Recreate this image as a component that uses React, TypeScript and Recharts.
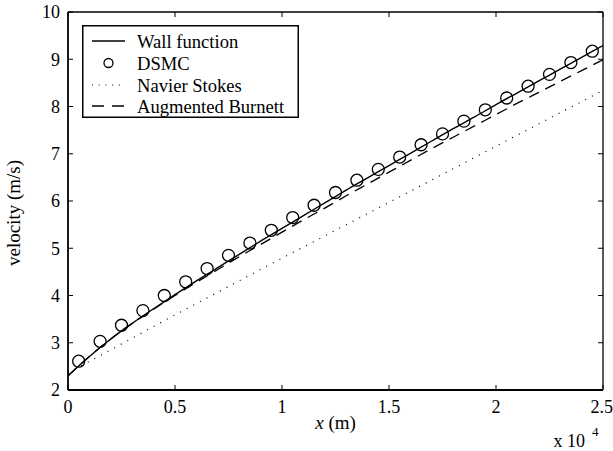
import React from 'react';
import { ComposedChart, Line, Scatter, XAxis, YAxis, Legend } from 'recharts';

const xTicks = [0, 0.5, 1, 1.5, 2, 2.5];
const yTicks = [2, 3, 4, 5, 6, 7, 8, 9, 10];

const seriesNames = ['Wall function', 'DSMC', 'Navier Stokes', 'Augmented Burnett'];

const wallX = [0, 0.05, 0.1, 0.2, 0.3, 0.4, 0.5, 0.6, 0.7, 0.8, 0.9, 1.0, 1.1, 1.2, 1.3, 1.4, 1.5, 1.6, 1.7, 1.8, 1.9, 2.0, 2.1, 2.2, 2.3, 2.4, 2.5];
const wallV = [2.30, 2.51, 2.71, 3.08, 3.41, 3.72, 4.02, 4.31, 4.59, 4.87, 5.15, 5.42, 5.69, 5.96, 6.23, 6.49, 6.75, 7.01, 7.27, 7.53, 7.78, 8.04, 8.29, 8.54, 8.79, 9.04, 9.29];

const dsmcX = [0.05, 0.15, 0.25, 0.35, 0.45, 0.55, 0.65, 0.75, 0.85, 0.95, 1.05, 1.15, 1.25, 1.35, 1.45, 1.55, 1.65, 1.75, 1.85, 1.95, 2.05, 2.15, 2.25, 2.35, 2.45];
const dsmcV = [2.61, 3.03, 3.37, 3.68, 4.0, 4.29, 4.57, 4.85, 5.11, 5.38, 5.65, 5.91, 6.18, 6.44, 6.67, 6.93, 7.19, 7.42, 7.69, 7.93, 8.18, 8.43, 8.68, 8.93, 9.17];

const nsX = [0, 0.5, 1.0, 1.5, 2.0, 2.5];
const nsV = [2.36, 3.59, 4.79, 5.97, 7.16, 8.34];

const abX = [0, 0.05, 0.1, 0.2, 0.3, 0.4, 0.5, 0.6, 0.7, 0.8, 0.9, 1.0, 1.1, 1.2, 1.3, 1.4, 1.5, 1.6, 1.7, 1.8, 1.9, 2.0, 2.1, 2.2, 2.3, 2.4, 2.5];
const abV = [2.30, 2.51, 2.71, 3.08, 3.41, 3.71, 4.00, 4.28, 4.55, 4.82, 5.08, 5.34, 5.60, 5.85, 6.11, 6.36, 6.61, 6.86, 7.11, 7.35, 7.59, 7.83, 8.07, 8.30, 8.53, 8.76, 8.99];

const toRows = (xs: number[], vs: number[]) => xs.map((x, i) => ({ x, v: vs[i] }));
const wallData = toRows(wallX, wallV);
const dsmcData = toRows(dsmcX, dsmcV);
const nsData = toRows(nsX, nsV);
const abData = toRows(abX, abV);

const FONT = 'Liberation Serif';
const tickStyle = { fontSize: 18, fill: '#000', fontFamily: FONT };
const EmptyTick = () => <g />;

const DSMCShape = (props: any) => (
  <circle cx={props.cx} cy={props.cy} r={6} fill="none" stroke="#000" strokeWidth={1.3} />
);

const LegendBox = () => {
  const rows = [41, 63, 85, 106].map((y) => y - 25);
  return (
    <svg width={217} height={93} style={{ display: 'block' }}>
      <rect x={0.75} y={0.75} width={215.5} height={91.5} fill="#fff" stroke="#000" strokeWidth={1.5} />
      <line x1={10} x2={43} y1={rows[0]} y2={rows[0]} stroke="#000" strokeWidth={1.3} />
      <circle cx={26.5} cy={rows[1]} r={4.5} fill="none" stroke="#000" strokeWidth={1.3} />
      <line x1={10} x2={43} y1={rows[2]} y2={rows[2]} stroke="#000" strokeWidth={1.2} strokeDasharray="1 5.7" />
      <line x1={10} x2={43} y1={rows[3]} y2={rows[3]} stroke="#000" strokeWidth={1.3} strokeDasharray="12 8" />
      {seriesNames.map((n, i) => (
        <text key={n} x={55} y={rows[i] + 6.5} fontSize={18.6} fontFamily={FONT} fill="#000">{n}</text>
      ))}
    </svg>
  );
};

const XLabel = (props: any) => {
  const vb = props.viewBox;
  return (
    <g fontFamily={FONT} fill="#000">
      <text x={vb.x + vb.width / 2} y={vb.y + 39} textAnchor="middle" fontSize={19}>
        <tspan fontStyle="italic">x</tspan> (m)
      </text>
      <text x={vb.x + vb.width - 18} y={vb.y + 57} textAnchor="end" fontSize={18}>x 10</text>
      <text x={vb.x + vb.width - 11} y={vb.y + 46} fontSize={13}>4</text>
    </g>
  );
};

const YLabel = (props: any) => {
  const vb = props.viewBox;
  const cx = 20;
  const cy = vb.y + vb.height / 2 + 12;
  return (
    <text transform={`translate(${cx},${cy}) rotate(-90)`} textAnchor="middle" fontSize={19} fontFamily={FONT} fill="#000">
      velocity (m/s)
    </text>
  );
};

export default function App() {
  return (
    <div style={{ position: 'absolute', left: 0, top: 0, width: 613, height: 451, background: '#fff' }}>
      <ComposedChart width={613} height={451} margin={{ top: 12, right: 10, left: 0, bottom: 0 }} style={{ fontFamily: FONT }}>
        <XAxis xAxisId="main" dataKey="x" type="number" domain={[0, 2.5]} ticks={xTicks} allowDataOverflow
          height={61} tickLine={false} tickSize={0} tickMargin={10} tick={tickStyle}
          axisLine={{ stroke: '#000', strokeWidth: 1.8 }} label={<XLabel />} />
        <XAxis xAxisId="bmirror" dataKey="x" type="number" domain={[0, 2.5]} ticks={xTicks} allowDataOverflow
          orientation="bottom" mirror tick={EmptyTick} tickSize={5} axisLine={false}
          tickLine={{ stroke: '#000', strokeWidth: 1 }} />
        <XAxis xAxisId="tmirror" dataKey="x" type="number" domain={[0, 2.5]} ticks={xTicks} allowDataOverflow
          orientation="top" mirror tick={EmptyTick} tickSize={5} axisLine={{ stroke: '#000', strokeWidth: 1.3 }}
          tickLine={{ stroke: '#000', strokeWidth: 1 }} />
        <YAxis yAxisId="main" type="number" domain={[2, 10]} ticks={yTicks} allowDataOverflow
          width={68} tickLine={false} tickSize={0} tickMargin={8} tick={tickStyle}
          axisLine={{ stroke: '#000', strokeWidth: 1.8 }} label={<YLabel />} />
        <YAxis yAxisId="lmirror" type="number" domain={[2, 10]} ticks={yTicks} allowDataOverflow
          orientation="left" mirror tick={EmptyTick} tickSize={5} axisLine={false}
          tickLine={{ stroke: '#000', strokeWidth: 1 }} />
        <YAxis yAxisId="rmirror" type="number" domain={[2, 10]} ticks={yTicks} allowDataOverflow
          orientation="right" mirror tick={EmptyTick} tickSize={5} axisLine={{ stroke: '#000', strokeWidth: 1.3 }}
          tickLine={{ stroke: '#000', strokeWidth: 1 }} />
        <Line xAxisId="main" yAxisId="main" data={nsData} dataKey="v" name={seriesNames[2]} type="linear"
          stroke="#000" strokeWidth={1.2} strokeDasharray="1 6.5" dot={false} activeDot={false} isAnimationActive={false} />
        <Line xAxisId="main" yAxisId="main" data={abData} dataKey="v" name={seriesNames[3]} type="monotone"
          stroke="#000" strokeWidth={1.3} strokeDasharray="11 7" dot={false} activeDot={false} isAnimationActive={false} />
        <Line xAxisId="main" yAxisId="main" data={wallData} dataKey="v" name={seriesNames[0]} type="monotone"
          stroke="#000" strokeWidth={1.4} dot={false} activeDot={false} isAnimationActive={false} />
        <Scatter xAxisId="main" yAxisId="main" data={dsmcData} dataKey="v" name={seriesNames[1]}
          shape={DSMCShape} isAnimationActive={false} />
        <Legend layout="vertical" align="center" verticalAlign="middle" content={<LegendBox />}
          wrapperStyle={{ position: 'absolute', left: 82, top: 25, width: 217, height: 93 }} />
      </ComposedChart>
    </div>
  );
}
